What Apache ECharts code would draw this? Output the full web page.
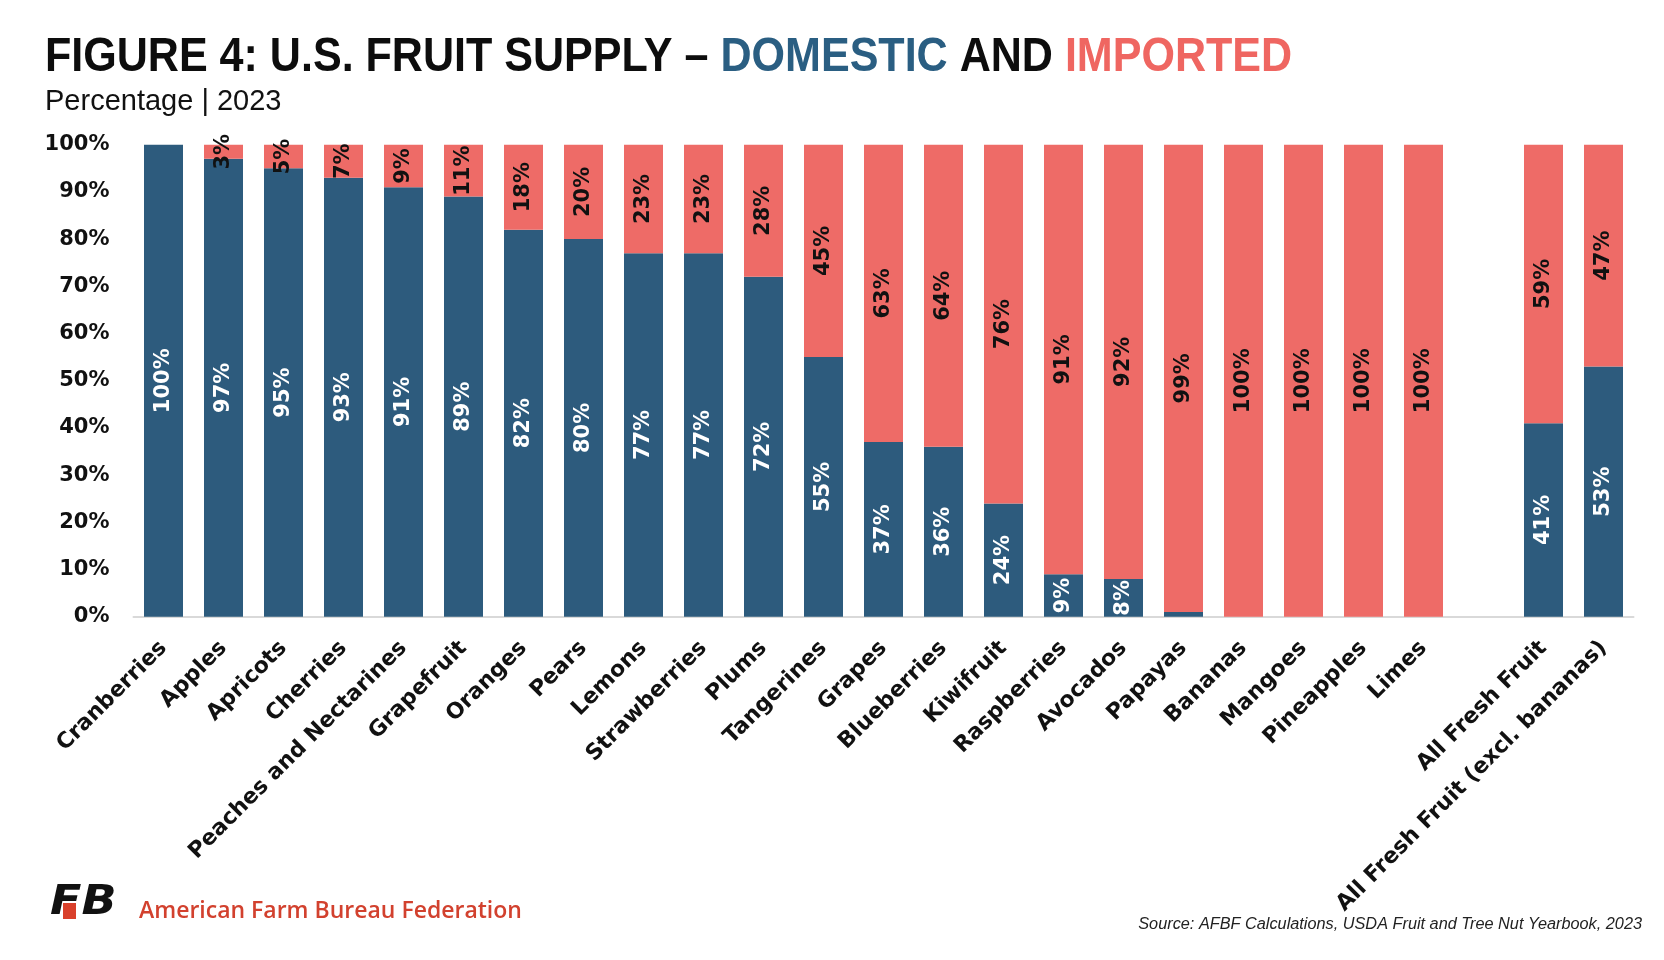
<!DOCTYPE html>
<html>
<head>
<meta charset="utf-8">
<script src="https://cdn.jsdelivr.net/npm/echarts@6/dist/echarts.min.js"></script>
<style>
html,body{margin:0;padding:0;background:#fff;}
#chart{width:1664px;height:960px;}
</style>
</head>
<body>
<div id="chart"></div>
<script>
const categories = ['Cranberries','Apples','Apricots','Cherries','Peaches and Nectarines','Grapefruit','Oranges','Pears','Lemons','Strawberries','Plums','Tangerines','Grapes','Blueberries','Kiwifruit','Raspberries','Avocados','Papayas','Bananas','Mangoes','Pineapples','Limes','','All Fresh Fruit','All Fresh Fruit (excl. bananas)'];
const domestic = [100,97,95,93,91,89,82,80,77,77,72,55,37,36,24,9,8,1,0,0,0,0,null,41,53];
const imported = [0,3,5,7,9,11,18,20,23,23,28,45,63,64,76,91,92,99,100,100,100,100,null,59,47];
const yTicks = [0,10,20,30,40,50,60,70,80,90,100];

const BLUE = '#2D5B7D';
const RED = '#EE6B67';
const chart = echarts.init(document.getElementById('chart'));
const lbl = p => (p.value != null && p.value > 1) ? p.value + '%' : '';
const TF = 'bold 48px "Liberation Sans"';
chart.setOption({
  backgroundColor: '#ffffff',
  animation: false,
  grid: {left: 133.5, right: 30.5, top: 144.7, bottom: 343.3, containLabel: false},
  xAxis: {
    type: 'category',
    data: categories,
    axisLine: {show: true, lineStyle: {color: '#d9d9d9', width: 2}},
    axisTick: {show: false},
    axisLabel: {
      interval: 0, rotate: 45, margin: 28,
      fontFamily: 'DejaVu Sans', fontWeight: 'bold', fontSize: 22, color: '#111'
    }
  },
  yAxis: {
    type: 'value', min: 0, max: 100, interval: 10,
    axisLine: {show: false}, axisTick: {show: false}, splitLine: {show: false},
    axisLabel: {
      margin: 24,
      formatter: v => yTicks.includes(v) ? v + '%' : '',
      fontFamily: 'DejaVu Sans', fontWeight: 'bold', fontSize: 21, color: '#111'
    }
  },
  series: [{
    name: 'Domestic', type: 'bar', stack: 'total', data: domestic, barWidth: 39,
    itemStyle: {color: BLUE},
    label: {show: true, position: 'inside', rotate: 90, formatter: lbl,
      fontFamily: 'DejaVu Sans', fontWeight: 'bold', fontSize: 21, color: '#fff'}
  }, {
    name: 'Imported', type: 'bar', stack: 'total', data: imported, barWidth: 39,
    itemStyle: {color: RED},
    label: {show: true, position: 'inside', rotate: 90, formatter: lbl,
      fontFamily: 'DejaVu Sans', fontWeight: 'bold', fontSize: 21, color: '#111'}
  }],
  graphic: [{
    type: 'text', x: 45, y: 34, scaleX: 0.897,
    style: {
      text: '{a|FIGURE 4: U.S. FRUIT SUPPLY – }{b|DOMESTIC}{a| AND }{c|IMPORTED}',
      rich: {
        a: {font: TF, fill: '#0d0d0d'},
        b: {font: TF, fill: '#2A5E82'},
        c: {font: TF, fill: '#EF6661'}
      }
    }
  }, {
    type: 'text', x: 45, y: 87,
    style: {text: 'Percentage | 2023', font: '29px "Liberation Sans"', fill: '#111'}
  }, {
    type: 'text', x: 50, y: 884, scaleX: 1.15,
    style: {text: 'FB', font: 'italic 900 40px "DejaVu Sans"', fill: '#111'}
  }, {
    type: 'rect', shape: {x: 63, y: 903, width: 13, height: 16}, style: {fill: '#D9402B'}
  }, {
    type: 'text', x: 139, y: 900,
    style: {text: 'American Farm Bureau Federation', font: '600 23px "Open Sans"', fill: '#D2412E'}
  }, {
    type: 'text', x: 1642, y: 916,
    style: {text: 'Source: AFBF Calculations, USDA Fruit and Tree Nut Yearbook, 2023', font: 'italic 16.3px "Liberation Sans"', fill: '#222', align: 'right'}
  }]
});
</script>
</body>
</html>
